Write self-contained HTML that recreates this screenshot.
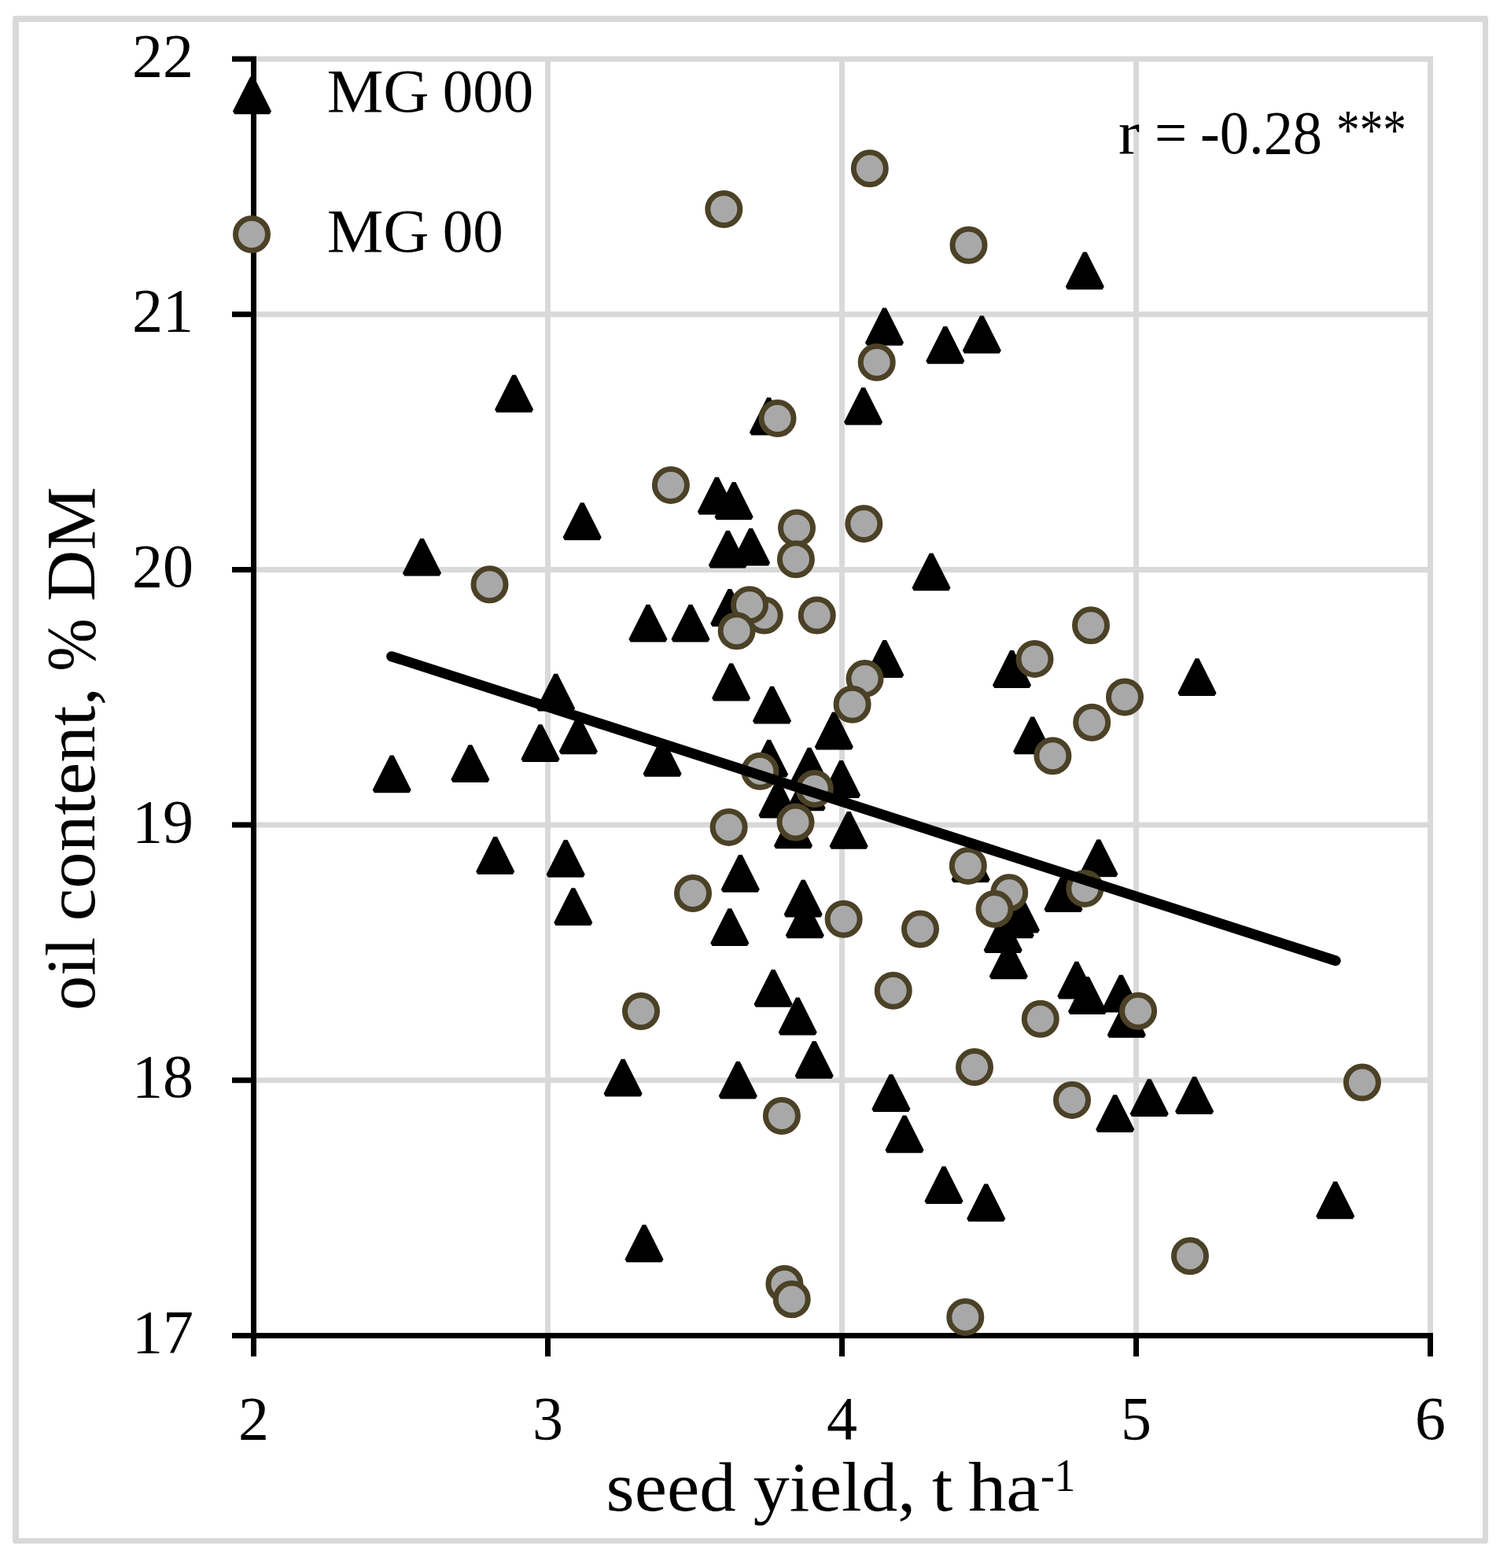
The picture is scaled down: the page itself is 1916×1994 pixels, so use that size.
<!DOCTYPE html>
<html><head><meta charset="utf-8"><title>oil content vs seed yield</title>
<style>html,body{margin:0;padding:0;background:#fff;overflow:hidden;width:1916px;height:1994px;}svg{display:block;}</style>
</head><body><svg width="1916" height="1994" viewBox="0 0 1916 1994"><rect width="1916" height="1994" fill="#fff"/><path d="M18 20H1890L1892 22V1961L1890 1963H18L16 1961V22ZM24 28V1956H1885V28Z" fill="#d9d9d9" fill-rule="evenodd"/><path d="M696.5 71.7V1698.5M1070.5 71.7V1698.5M1444.5 71.7V1698.5M1818.5 71.7V1698.5M322.5 75.1H1821.9M322.5 399.8H1821.9M322.5 724.5H1821.9M322.5 1049.1H1821.9M322.5 1373.8H1821.9" stroke="#d9d9d9" stroke-width="7" fill="none"/><path d="M322.5 71.6V1725.0M295.0 1698.5H1822.0M295 75.1H322.5M295 399.8H322.5M295 724.5H322.5M295 1049.1H322.5M295 1373.8H322.5M696.5 1698.5V1725M1070.5 1698.5V1725M1444.5 1698.5V1725M1818.5 1698.5V1725" stroke="#000" stroke-width="7" fill="none"/><g font-family="Liberation Serif, serif" font-size="78" fill="#000"><text x="246" y="96.6" text-anchor="end">22</text><text x="246" y="421.3" text-anchor="end">21</text><text x="246" y="746.0" text-anchor="end">20</text><text x="246" y="1070.6" text-anchor="end">19</text><text x="246" y="1395.3" text-anchor="end">18</text><text x="246" y="1720.0" text-anchor="end">17</text><text x="322.5" y="1830" text-anchor="middle">2</text><text x="696.5" y="1830" text-anchor="middle">3</text><text x="1070.5" y="1830" text-anchor="middle">4</text><text x="1444.5" y="1830" text-anchor="middle">5</text><text x="1818.5" y="1830" text-anchor="middle">6</text></g><g font-family="Liberation Serif, serif" fill="#000"><text x="415.7" y="142.0" font-size="78" textLength="129.9" lengthAdjust="spacingAndGlyphs">MG</text><text x="562.7" y="142.0" font-size="78" textLength="115.5" lengthAdjust="spacingAndGlyphs">000</text><text x="415.7" y="320.0" font-size="78" textLength="129.9" lengthAdjust="spacingAndGlyphs">MG</text><text x="562.7" y="320.0" font-size="78" textLength="77.2" lengthAdjust="spacingAndGlyphs">00</text><text x="1421.9" y="195.2" font-size="78" textLength="26.9" lengthAdjust="spacingAndGlyphs">r</text><text x="1467.9" y="195.2" font-size="78" textLength="41.1" lengthAdjust="spacingAndGlyphs">=</text><text x="1526.0" y="195.2" font-size="78" textLength="155.1" lengthAdjust="spacingAndGlyphs">-0.28</text><text x="1699.1" y="189.0" font-size="72" textLength="88.9" lengthAdjust="spacingAndGlyphs">***</text><text x="770.6" y="1921.0" font-size="88" textLength="165.0" lengthAdjust="spacingAndGlyphs">seed</text><text x="957.8" y="1921.0" font-size="88" textLength="206.4" lengthAdjust="spacingAndGlyphs">yield,</text><text x="1185.0" y="1921.0" font-size="88" textLength="26.3" lengthAdjust="spacingAndGlyphs">t</text><text x="1231.0" y="1921.0" font-size="88" textLength="91.3" lengthAdjust="spacingAndGlyphs">ha</text><text x="1323.1" y="1896.0" font-size="60" textLength="44.4" lengthAdjust="spacingAndGlyphs">-1</text><g transform="translate(120 0) rotate(-90)"><text x="-1285.0" y="0.0" font-size="88" textLength="93.2" lengthAdjust="spacingAndGlyphs">oil</text><text x="-1171.2" y="0.0" font-size="88" textLength="297.1" lengthAdjust="spacingAndGlyphs">content,</text><text x="-853.7" y="0.0" font-size="88" textLength="67.4" lengthAdjust="spacingAndGlyphs">%</text><text x="-764.8" y="0.0" font-size="88" textLength="145.5" lengthAdjust="spacingAndGlyphs">DM</text></g></g><g fill="#000" stroke="#000" stroke-width="5.2" stroke-linejoin="bevel"><path d="M653.60 477.97L675.83 522.00L631.37 522.00Z"/><path d="M740.20 640.47L762.43 684.50L717.97 684.50Z"/><path d="M536.50 685.97L558.73 730.00L514.27 730.00Z"/><path d="M823.90 769.87L846.13 813.90L801.67 813.90Z"/><path d="M878.00 769.87L900.23 813.90L855.77 813.90Z"/><path d="M706.60 857.87L728.83 901.90L684.37 901.90Z"/><path d="M1124.50 392.77L1146.73 436.80L1102.27 436.80Z"/><path d="M1201.80 416.07L1224.03 460.10L1179.57 460.10Z"/><path d="M1248.30 402.77L1270.53 446.80L1226.07 446.80Z"/><path d="M1097.60 493.97L1119.83 538.00L1075.37 538.00Z"/><path d="M977.50 506.77L999.73 550.80L955.27 550.80Z"/><path d="M1379.30 321.57L1401.53 365.60L1357.07 365.60Z"/><path d="M911.40 607.87L933.63 651.90L889.17 651.90Z"/><path d="M933.10 614.27L955.33 658.30L910.87 658.30Z"/><path d="M925.40 675.87L947.63 719.90L903.17 719.90Z"/><path d="M954.60 672.97L976.83 717.00L932.37 717.00Z"/><path d="M1184.00 704.57L1206.23 748.60L1161.77 748.60Z"/><path d="M927.80 750.07L950.03 794.10L905.57 794.10Z"/><path d="M929.60 844.77L951.83 888.80L907.37 888.80Z"/><path d="M981.50 873.87L1003.73 917.90L959.27 917.90Z"/><path d="M1124.70 815.27L1146.93 859.30L1102.47 859.30Z"/><path d="M1286.50 828.27L1308.73 872.30L1264.27 872.30Z"/><path d="M1060.30 906.77L1082.53 950.80L1038.07 950.80Z"/><path d="M977.60 941.87L999.83 985.90L955.37 985.90Z"/><path d="M1029.00 951.97L1051.23 996.00L1006.77 996.00Z"/><path d="M1069.50 968.27L1091.73 1012.30L1047.27 1012.30Z"/><path d="M989.00 993.77L1011.23 1037.80L966.77 1037.80Z"/><path d="M1025.00 984.57L1047.23 1028.60L1002.77 1028.60Z"/><path d="M1008.50 1032.57L1030.73 1076.60L986.27 1076.60Z"/><path d="M1079.10 1033.07L1101.33 1077.10L1056.87 1077.10Z"/><path d="M941.30 1088.17L963.53 1132.20L919.07 1132.20Z"/><path d="M1021.20 1119.87L1043.43 1163.90L998.97 1163.90Z"/><path d="M1023.30 1146.67L1045.53 1190.70L1001.07 1190.70Z"/><path d="M927.80 1156.37L950.03 1200.40L905.57 1200.40Z"/><path d="M1234.20 1075.67L1256.43 1119.70L1211.97 1119.70Z"/><path d="M1297.40 1139.97L1319.63 1184.00L1275.17 1184.00Z"/><path d="M1290.30 1146.67L1312.53 1190.70L1268.07 1190.70Z"/><path d="M1275.20 1165.47L1297.43 1209.50L1252.97 1209.50Z"/><path d="M1282.30 1198.67L1304.53 1242.70L1260.07 1242.70Z"/><path d="M983.10 1234.17L1005.33 1278.20L960.87 1278.20Z"/><path d="M1014.20 1269.77L1036.43 1313.80L991.97 1313.80Z"/><path d="M1035.20 1325.07L1057.43 1369.10L1012.97 1369.10Z"/><path d="M687.00 922.37L709.23 966.40L664.77 966.40Z"/><path d="M735.30 912.57L757.53 956.60L713.07 956.60Z"/><path d="M597.90 948.47L620.13 992.50L575.67 992.50Z"/><path d="M498.20 961.57L520.43 1005.60L475.97 1005.60Z"/><path d="M842.10 941.07L864.33 985.10L819.87 985.10Z"/><path d="M629.70 1065.27L651.93 1109.30L607.47 1109.30Z"/><path d="M719.20 1069.07L741.43 1113.10L696.97 1113.10Z"/><path d="M728.80 1130.37L751.03 1174.40L706.57 1174.40Z"/><path d="M792.10 1347.87L814.33 1391.90L769.87 1391.90Z"/><path d="M819.00 1558.67L841.23 1602.70L796.77 1602.70Z"/><path d="M938.30 1350.97L960.53 1395.00L916.07 1395.00Z"/><path d="M1132.90 1367.47L1155.13 1411.50L1110.67 1411.50Z"/><path d="M1150.00 1419.57L1172.23 1463.60L1127.77 1463.60Z"/><path d="M1200.00 1484.47L1222.23 1528.50L1177.77 1528.50Z"/><path d="M1253.70 1506.77L1275.93 1550.80L1231.47 1550.80Z"/><path d="M1312.70 912.57L1334.93 956.60L1290.47 956.60Z"/><path d="M1522.00 838.37L1544.23 882.40L1499.77 882.40Z"/><path d="M1396.80 1068.67L1419.03 1112.70L1374.57 1112.70Z"/><path d="M1352.00 1113.27L1374.23 1157.30L1329.77 1157.30Z"/><path d="M1368.80 1223.97L1391.03 1268.00L1346.57 1268.00Z"/><path d="M1382.50 1243.27L1404.73 1287.30L1360.27 1287.30Z"/><path d="M1425.30 1240.97L1447.53 1285.00L1403.07 1285.00Z"/><path d="M1432.30 1273.07L1454.53 1317.10L1410.07 1317.10Z"/><path d="M1461.20 1373.47L1483.43 1417.50L1438.97 1417.50Z"/><path d="M1518.60 1370.47L1540.83 1414.50L1496.37 1414.50Z"/><path d="M1417.70 1393.47L1439.93 1437.50L1395.47 1437.50Z"/><path d="M1697.70 1503.57L1719.93 1547.60L1675.47 1547.60Z"/><path d="M320.50 98.57L342.73 142.60L298.27 142.60Z"/></g><g fill="#a8a8a8" stroke="#4b4126" stroke-width="7.0"><circle cx="852.9" cy="616.9" r="20.5"/><circle cx="622.5" cy="743.3" r="20.5"/><circle cx="920.3" cy="266.1" r="20.5"/><circle cx="1105.8" cy="214.3" r="20.5"/><circle cx="1231.5" cy="311.7" r="20.5"/><circle cx="1114.7" cy="460.7" r="20.5"/><circle cx="988.5" cy="532.0" r="20.5"/><circle cx="1013.0" cy="671.5" r="20.5"/><circle cx="1011.9" cy="711.2" r="20.5"/><circle cx="1098.3" cy="666.1" r="20.5"/><circle cx="971.7" cy="782.5" r="20.5"/><circle cx="953.0" cy="769.2" r="20.5"/><circle cx="936.6" cy="802.3" r="20.5"/><circle cx="1038.7" cy="782.5" r="20.5"/><circle cx="1099.5" cy="863.1" r="20.5"/><circle cx="1083.6" cy="895.8" r="20.5"/><circle cx="966.3" cy="980.8" r="20.5"/><circle cx="1035.7" cy="1003.0" r="20.5"/><circle cx="1011.5" cy="1045.5" r="20.5"/><circle cx="926.6" cy="1051.9" r="20.5"/><circle cx="881.0" cy="1136.0" r="20.5"/><circle cx="1072.6" cy="1168.7" r="20.5"/><circle cx="1170.0" cy="1181.5" r="20.5"/><circle cx="1230.8" cy="1101.0" r="20.5"/><circle cx="1283.2" cy="1135.3" r="20.5"/><circle cx="1264.5" cy="1156.0" r="20.5"/><circle cx="1135.7" cy="1259.8" r="20.5"/><circle cx="815.0" cy="1286.0" r="20.5"/><circle cx="993.9" cy="1419.0" r="20.5"/><circle cx="1239.0" cy="1357.1" r="20.5"/><circle cx="997.4" cy="1632.8" r="20.5"/><circle cx="1006.7" cy="1652.2" r="20.5"/><circle cx="1227.3" cy="1674.9" r="20.5"/><circle cx="1387.0" cy="795.3" r="20.5"/><circle cx="1315.5" cy="837.9" r="20.5"/><circle cx="1430.0" cy="886.4" r="20.5"/><circle cx="1388.2" cy="918.7" r="20.5"/><circle cx="1338.4" cy="961.2" r="20.5"/><circle cx="1379.3" cy="1129.9" r="20.5"/><circle cx="1447.1" cy="1285.7" r="20.5"/><circle cx="1322.8" cy="1295.8" r="20.5"/><circle cx="1363.0" cy="1398.9" r="20.5"/><circle cx="1731.9" cy="1376.5" r="20.5"/><circle cx="1513.0" cy="1597.3" r="20.5"/><circle cx="320.0" cy="298.0" r="20.5"/></g><path d="M497.7 834.7L1698.2 1221.8" stroke="#000" stroke-width="13" stroke-linecap="round" fill="none"/></svg></body></html>
